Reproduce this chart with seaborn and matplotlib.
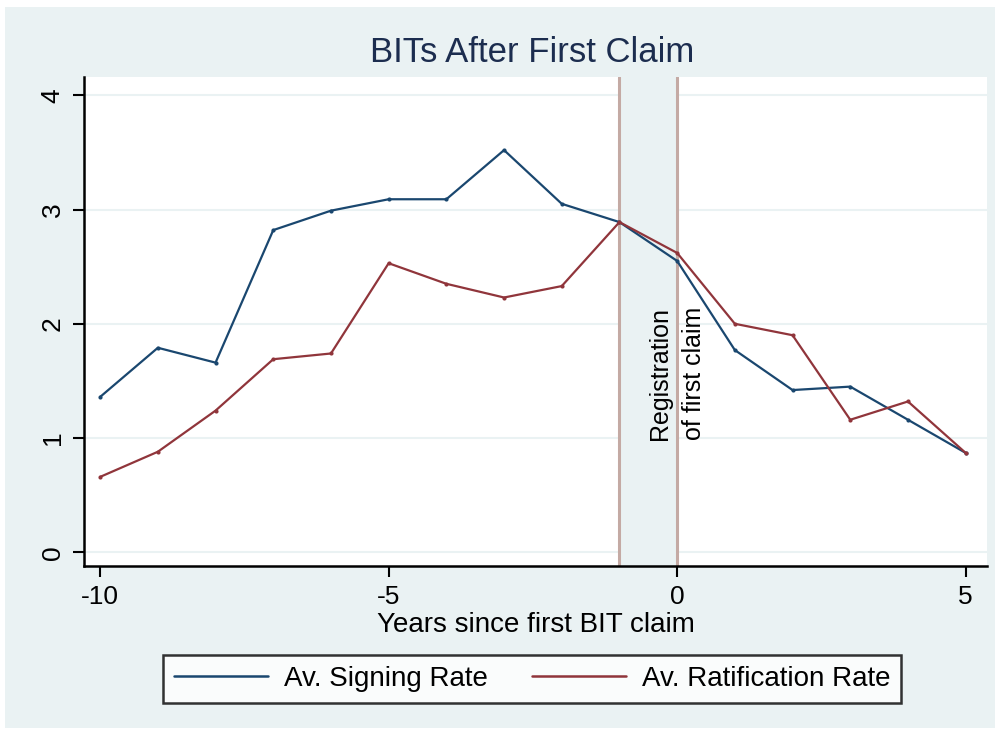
import matplotlib
matplotlib.use("Agg")
import matplotlib.pyplot as plt
import seaborn as sns
import pandas as pd
from matplotlib.patches import Rectangle

years = [-10, -9, -8, -7, -6, -5, -4, -3, -2, -1, 0, 1, 2, 3, 4, 5]
signing = [1.36, 1.79, 1.66, 2.82, 2.99, 3.09, 3.09, 3.52, 3.05, 2.89, 2.55, 1.77, 1.42, 1.45, 1.16, 0.87]
ratification = [0.66, 0.88, 1.24, 1.69, 1.74, 2.53, 2.35, 2.23, 2.33, 2.89, 2.62, 2.00, 1.90, 1.16, 1.32, 0.87]
series_names = ["Av. Signing Rate", "Av. Ratification Rate"]
xticks = [-10, -5, 0, 5]
yticks = [0, 1, 2, 3, 4]

df = pd.DataFrame({
    "year": years * 2,
    "rate": signing + ratification,
    "series": [series_names[0]] * len(years) + [series_names[1]] * len(years),
})

sns.set_theme(style="white")
plt.rcParams["font.family"] = ["Liberation Sans", "DejaVu Sans"]
plt.rcParams["text.color"] = "black"
plt.rcParams["xtick.color"] = "black"
plt.rcParams["ytick.color"] = "black"
plt.rcParams["axes.labelcolor"] = "black"

BG = "#eaf2f3"
NAVY = "#1a476f"
MAROON = "#90353b"

fig = plt.figure(figsize=(9.99, 7.33), dpi=100)
fig.patch.set_facecolor("white")
fig.add_artist(Rectangle((5 / 999, 5 / 733), 990 / 999, 721 / 733,
                         transform=fig.transFigure, facecolor=BG, edgecolor="none", zorder=0))

ax = fig.add_axes([84 / 999, 1 - 566 / 733, 903 / 999, 489 / 733])
ax.set_facecolor("white")

# shaded window and vertical lines
ax.axvspan(-1, 0, color=BG, zorder=0, lw=0)
for xv in (-1, 0):
    ax.axvline(xv, color="#c4aaa4", lw=2.2, zorder=1)

for yv in yticks:
    ax.axhline(yv, color=BG, lw=1.5, zorder=0.5)

sns.lineplot(data=df, x="year", y="rate", hue="series", palette=[NAVY, MAROON],
             marker="o", markersize=3, markeredgewidth=0, lw=1.6, ax=ax, zorder=3)

ax.text(0, 0.98, "Registration\nof first claim", rotation=90, ha="center", va="bottom",
        multialignment="left", fontsize=18, linespacing=1.55, color="black", zorder=4)

ax.set_xlim(-10.28, 5.37)
ax.set_ylim(-0.12, 4.16)
ax.set_xticks(xticks)
ax.set_yticks(yticks)
ax.set_xticklabels([str(t) for t in xticks], fontsize=19)
ax.set_yticklabels([str(t) for t in yticks], fontsize=19, rotation=90, va="center")
ax.tick_params(axis="both", direction="out", length=8, width=1.5, color="black",
               bottom=True, left=True, pad=6)
for s in ("top", "right"):
    ax.spines[s].set_visible(False)
for s in ("left", "bottom"):
    ax.spines[s].set_color("black")
    ax.spines[s].set_linewidth(1.8)

ax.set_xlabel("Years since first BIT claim", fontsize=20, labelpad=2)
ax.set_ylabel("")
fig.text(532 / 999, 1 - 52 / 733, "BITs After First Claim", ha="center", va="center",
         fontsize=25, color="#1c2d4f")

handles, labels = ax.get_legend_handles_labels()
ax.get_legend().remove()
for h in handles:
    h.set_marker("")
leg = fig.legend(handles, labels, loc="center", bbox_to_anchor=(532 / 999, 1 - 679 / 733),
                 ncol=2, fontsize=20, frameon=True, fancybox=False, handlelength=3.4,
                 columnspacing=1.6, borderpad=0.4, handletextpad=0.55)
leg.get_frame().set_edgecolor("black")
leg.get_frame().set_linewidth(1.8)
leg.get_frame().set_facecolor("white")
for ln in leg.get_lines():
    ln.set_linewidth(1.8)

fig.savefig("out.png", dpi=100, facecolor=fig.get_facecolor())
